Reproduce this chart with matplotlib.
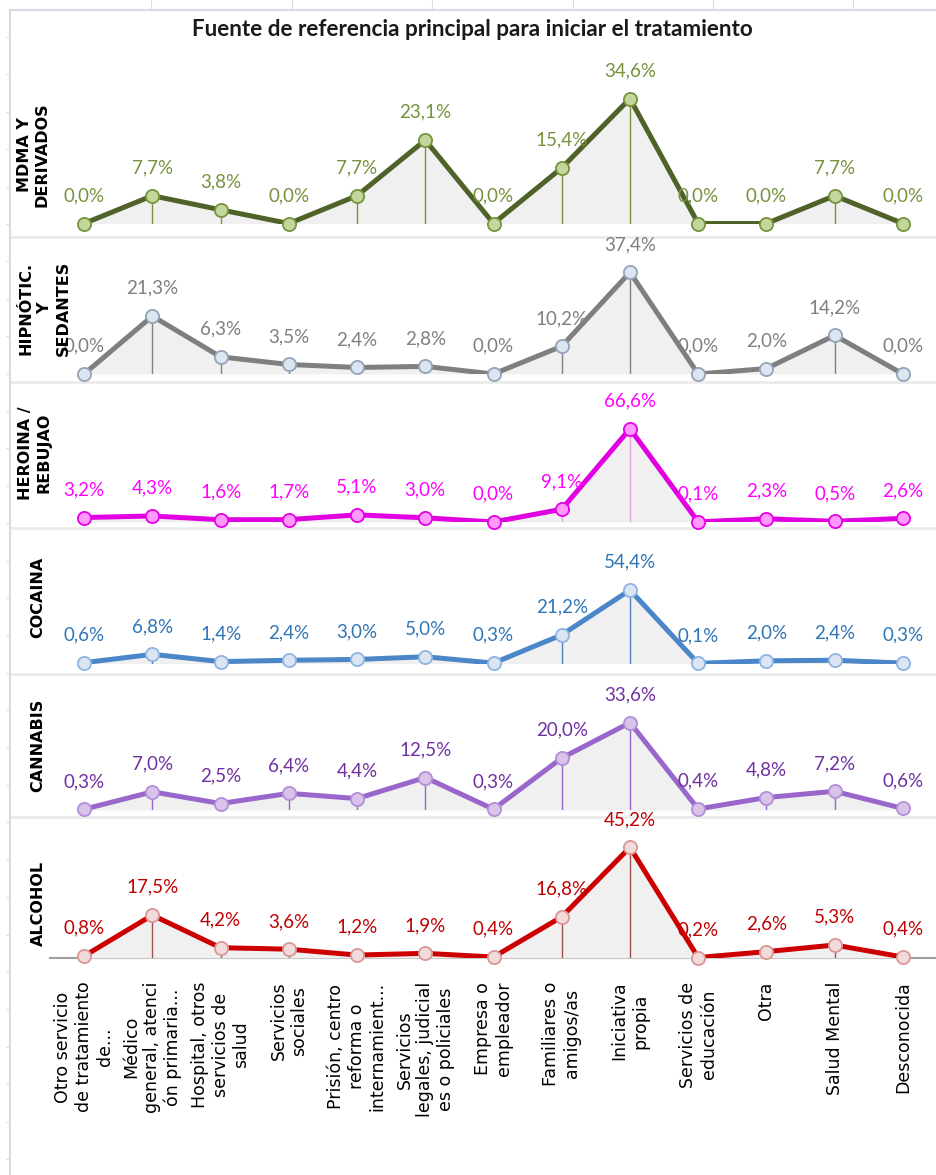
import matplotlib
matplotlib.use("Agg")
import matplotlib.pyplot as plt
import numpy as np

# categorias del eje X
categorias = [
    "Otro servicio\nde tratamiento\nde...",
    "Médico\ngeneral, atenci\nón primaria...",
    "Hospital, otros\nservicios de\nsalud",
    "Servicios\nsociales",
    "Prisión, centro\nreforma o\ninternamient...",
    "Servicios\nlegales, judicial\nes o policiales",
    "Empresa o\nempleador",
    "Familiares o\namigos/as",
    "Iniciativa\npropia",
    "Servicios de\neducación",
    "Otra",
    "Salud Mental",
    "Desconocida",
]

# porcentajes por sustancia
mdma = [0.0, 7.7, 3.8, 0.0, 7.7, 23.1, 0.0, 15.4, 34.6, 0.0, 0.0, 7.7, 0.0]
hipnoticos = [0.0, 21.3, 6.3, 3.5, 2.4, 2.8, 0.0, 10.2, 37.4, 0.0, 2.0, 14.2, 0.0]
heroina = [3.2, 4.3, 1.6, 1.7, 5.1, 3.0, 0.0, 9.1, 66.6, 0.1, 2.3, 0.5, 2.6]
cocaina = [0.6, 6.8, 1.4, 2.4, 3.0, 5.0, 0.3, 21.2, 54.4, 0.1, 2.0, 2.4, 0.3]
cannabis = [0.3, 7.0, 2.5, 6.4, 4.4, 12.5, 0.3, 20.0, 33.6, 0.4, 4.8, 7.2, 0.6]
alcohol = [0.8, 17.5, 4.2, 3.6, 1.2, 1.9, 0.4, 16.8, 45.2, 0.2, 2.6, 5.3, 0.4]

sustancias = ["MDMA Y\nDERIVADOS", "HIPNÓTIC.\nY\nSEDANTES", "HEROINA /\nREBUJAO",
              "COCAINA", "CANNABIS", "ALCOHOL"]
series = [mdma, hipnoticos, heroina, cocaina, cannabis, alcohol]

titulo = "Fuente de referencia principal para iniciar el tratamiento"

W, H = 937, 1175
FUENTE = ["Lato", "DejaVu Sans"]

# estilo de cada panel: linea, relleno marcador, borde marcador, linea vertical, texto
estilos = [
    ("#4F6228", "#C3D69B", "#77933C", "#77933C", "#76923C"),
    ("#7F7F7F", "#DCE6F2", "#95A3B8", "#808080", "#7F7F7F"),
    ("#E000E0", "#FF99FF", "#E600E6", "#E8A0E8", "#FF00FF"),
    ("#4A86C8", "#DCE6F2", "#8EB4E3", "#4F81BD", "#2E75B6"),
    ("#9966CC", "#D9C3E9", "#B38FD9", "#9966CC", "#7030A0"),
    ("#CC0000", "#F2DCDB", "#D99694", "#A05050", "#C00000"),
]
# posicion de cada panel en pixeles: (linea base, tope, px por %)
paneles = [(223.5, 45, 3.61), (374, 245, 2.72), (522, 392, 1.40),
           (663.5, 540, 1.35), (810, 685, 2.60), (958, 828, 2.45)]
# centro de la etiqueta de fila y espaciado de lineas
etiq_pos = [(33, 155, 1.2), (45, 308, 1.3), (35, 453, 1.3),
            (38, 597, 1.2), (38, 745, 1.2), (38, 903, 1.2)]
separadores = [237, 382, 528, 674, 817]

fig = plt.figure(figsize=(W / 100, H / 100), dpi=100)

# marco de fondo (eje exterior de Excel)
ax_bg = fig.add_axes([10 / W, 0, (W - 10) / W, (H - 10) / H], zorder=-1)
ax_bg.set_xlim(10, W)
ax_bg.set_ylim(H, 10)
ax_bg.set_facecolor("none")
for s in ["right", "bottom"]:
    ax_bg.spines[s].set_visible(False)
for s in ["left", "top"]:
    ax_bg.spines[s].set_color("#D6DCE5")
    ax_bg.spines[s].set_linewidth(1.5)
ax_bg.xaxis.tick_top()
ax_bg.set_xticks([151, 292, 432, 573, 713, 853])
ax_bg.set_yticks(np.arange(37, H, 37.4))
ax_bg.tick_params(axis="x", length=7, color="#D6DCE5", labeltop=False, direction="out")
ax_bg.tick_params(axis="y", length=3, color="#D6DCE5", labelleft=False, direction="out")
for y in separadores:
    ax_bg.axhline(y, color="#EBEBEB", lw=2)

fig.text(472 / W, 1 - 30 / H, titulo, ha="center", va="center", fontsize=16.2,
         fontweight="bold", family=FUENTE, color="#1A1A1A")

x = np.arange(len(categorias))
for k, (vals, est, pan) in enumerate(zip(series, estilos, paneles)):
    linea, cara, borde, caida, texto = est
    base, tope, escala = pan
    ax = fig.add_axes([50 / W, 1 - base / H, (W - 50) / W, (base - tope) / H])
    ax.set_xlim(-0.5, len(categorias) - 0.5)
    ax.set_ylim(0, (base - tope) / escala)
    ax.set_facecolor("none")
    for s in ax.spines.values():
        s.set_visible(False)
    ax.set_yticks([])

    ax.fill_between(x, 0, vals, color="#F0F0F0", lw=0, zorder=1)
    ax.vlines(x, 0, vals, color=caida, lw=1, zorder=2)
    ax.plot(x, vals, color=linea, lw=3.6, solid_joinstyle="round", zorder=3)
    ax.plot(x, vals, ls="none", marker="o", ms=9.5, mfc=cara, mec=borde, mew=1.3,
            zorder=4, clip_on=False)
    for i, v in enumerate(vals):
        ax.annotate(f"{v:.1f}".replace(".", ",") + "%", (i, v), xytext=(0, 20),
                    textcoords="offset points", ha="center", va="center",
                    fontsize=13.5, color=texto, zorder=5, family=FUENTE)

    ex, ey, esp = etiq_pos[k]
    fig.text(ex / W, 1 - ey / H, sustancias[k], rotation=90, ha="center", va="center",
             multialignment="center", fontsize=11.5, fontweight="bold", color="black",
             linespacing=esp, family="DejaVu Sans")

    if k == len(series) - 1:
        ax.axhline(0, color="#A0A0A0", lw=1.5, zorder=0, clip_on=False)
        ax.set_xticks(x)
        ax.set_xticklabels(categorias, rotation=90, fontsize=12.5, color="black")
        for t in ax.get_xticklabels():
            t.set_multialignment("center")
        ax.tick_params(axis="x", length=0, pad=17)
    else:
        ax.set_xticks([])

fig.savefig("out.png", dpi=100)
